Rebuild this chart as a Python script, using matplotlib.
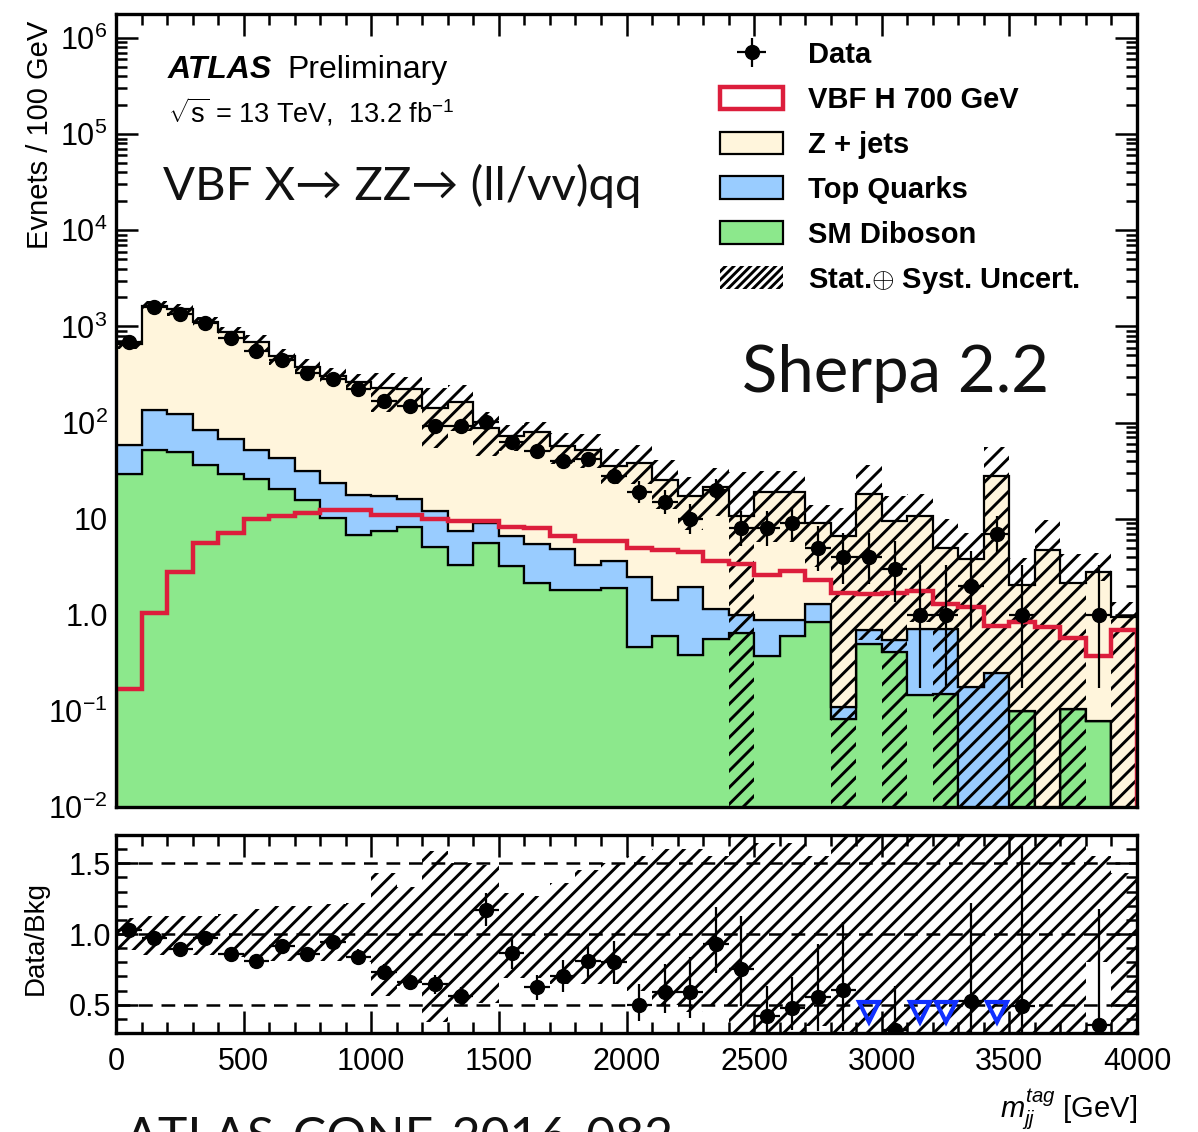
import math
import numpy as np
import matplotlib
matplotlib.use("Agg")
import matplotlib.pyplot as plt
from matplotlib.patches import Patch
from matplotlib.ticker import MultipleLocator, LogLocator, NullFormatter

# ---------------- data ----------------
bin_edges = np.arange(0, 4001, 100)

data_counts = [680, 1590, 1360, 1090, 750, 555, 447, 325, 285, 222,
               168, 147, 92, 92, 102, 63, 50, 40, 42, 28,
               19, 15, 10, 20, 8, 8, 9, 5, 4, 4,
               3, 1, 1, 2, 7, 1, 0, 0, 1, 0]

total_bkg = [660, 1640, 1520, 1120, 870, 685, 490, 378, 303, 264,
             230, 222, 143, 163, 87, 73, 80, 57, 52, 35,
             38, 25.4, 17.0, 21.5, 10.6, 18.9, 18.9, 9.0, 6.6, 18.0,
             9.4, 10.6, 4.9, 3.8, 27.5, 2.03, 4.7, 2.13, 2.8, 0.94]

diboson = [29, 52, 49, 36, 29, 26, 20.5, 15.8, 10.2, 6.7,
           7.4, 8.2, 5.1, 3.3, 5.6, 3.2, 2.16, 1.8, 1.8, 1.9,
           0.46, 0.6, 0.385, 0.56, 0.65, 0.37, 0.6, 0.85, 0.083, 0.50,
           0.41, 0.145, 0.15, 0.0, 0.0, 0.10, 0.0, 0.105, 0.079, 0.0]

top_quarks = [29.5, 83, 75, 46.6, 39, 26, 22, 15.6, 13.3, 11.1,
              9.7, 7.8, 6.9, 4.2, 3.4, 3.4, 3.24, 3.0, 1.5, 1.7,
              2.04, 0.81, 1.57, 0.6, 0.35, 0.51, 0.28, 0.44, 0.028, 0.19,
              0.13, 0.565, 0.56, 0.177, 0.245, 0.0, 0.0, 0.0, 0.0, 0.0]

vbf_signal = [0.17, 1.05, 2.8, 5.6, 7.1, 9.8, 10.6, 11.5, 12.2, 12.2,
              11.0, 11.0, 10.0, 9.5, 9.5, 8.2, 8.0, 6.6, 5.8, 5.8,
              4.9, 4.7, 4.5, 3.6, 3.35, 2.6, 2.86, 2.3, 1.7, 1.65,
              1.7, 1.75, 1.3, 1.2, 0.77, 0.85, 0.75, 0.57, 0.37, 0.7]

unc_up = [0.11, 0.13, 0.13, 0.13, 0.14, 0.18, 0.20, 0.20, 0.21, 0.22,
          0.43, 0.33, 0.59, 0.50, 0.49, 0.29, 0.27, 0.36, 0.45, 0.50,
          0.55, 0.60, 0.60, 0.55, 1.90, 0.64, 0.64, 0.55, 0.96, 1.00,
          0.85, 0.70, 1.00, 0.87, 1.04, 0.92, 1.06, 1.00, 0.55, 0.43]

unc_dn = [0.11, 0.15, 0.15, 0.15, 0.16, 0.18, 0.19, 0.19, 0.19, 0.20,
          0.44, 0.37, 0.62, 0.50, 0.49, 0.31, 0.31, 0.35, 0.35, 0.35,
          0.40, 0.50, 0.55, 0.50, 1.00, 0.70, 0.70, 0.65, 1.00, 0.97,
          1.00, 0.92, 1.00, 1.00, 1.00, 1.00, 1.00, 1.00, 0.20, 1.00]

legend_labels = ["Data", "VBF H 700 GeV", "Z + jets", "Top Quarks",
                 "SM Diboson", r"Stat.$\oplus$ Syst. Uncert."]

# ---------------- style ----------------
plt.rcParams['font.family'] = ['Liberation Sans', 'DejaVu Sans']
plt.rcParams['mathtext.fontset'] = 'custom'
plt.rcParams['mathtext.rm'] = 'Liberation Sans'
plt.rcParams['mathtext.it'] = 'Liberation Sans:italic'
plt.rcParams['mathtext.bf'] = 'Liberation Sans:bold'
plt.rcParams['hatch.linewidth'] = 2.1

C_Z = '#FFF5DC'
C_TOP = '#99CCFF'
C_DIB = '#8CE88C'
C_RED = '#DC1E3C'

edges = bin_edges
centers = 0.5 * (edges[:-1] + edges[1:])
data = np.array(data_counts, float)
tot = np.array(total_bkg, float)
dib = np.array(diboson, float)
top = np.array(top_quarks, float)
sig = np.array(vbf_signal, float)
uup = np.array(unc_up, float)
udn = np.array(unc_dn, float)

FLOOR = 1e-5
dib_top = dib + top


# Poisson (Garwood) 68% intervals for the data
def pois_cdf(k, mu):
    if mu <= 0:
        return 1.0
    return sum(math.exp(j * math.log(mu) - mu - math.lgamma(j + 1)) for j in range(k + 1))


def garwood(n):
    a = 0.158655
    if n == 0:
        return 0.0, 0.0
    if n > 25:
        return n - math.sqrt(n), n + math.sqrt(n)
    lo, hi = 0.0, float(n)
    for _ in range(60):
        m = 0.5 * (lo + hi)
        if 1 - pois_cdf(n - 1, m) < a:
            lo = m
        else:
            hi = m
    low = 0.5 * (lo + hi)
    lo, hi = float(n), n + 10 * math.sqrt(n) + 10
    for _ in range(60):
        m = 0.5 * (lo + hi)
        if pois_cdf(n, m) > a:
            lo = m
        else:
            hi = m
    up = 0.5 * (lo + hi)
    return low, up


lims = np.array([garwood(int(n)) for n in data_counts])
err_lo = data - lims[:, 0]
err_hi = lims[:, 1] - data

# ---------------- figure ----------------
fig = plt.figure(figsize=(11.98, 11.32), dpi=100)
ax = fig.add_axes([116 / 1198, 1 - 807 / 1132, 1021 / 1198, 793 / 1132])
axr = fig.add_axes([116 / 1198, 1 - 1033 / 1132, 1021 / 1198, 198 / 1132])

lw_edge = 1.6
ax.stairs(np.maximum(dib, FLOOR), edges, baseline=FLOOR, fill=True,
          facecolor=C_DIB, edgecolor='black', linewidth=lw_edge, zorder=2)
ax.stairs(np.maximum(dib_top, FLOOR), edges, baseline=np.maximum(dib, FLOOR), fill=True,
          facecolor=C_TOP, edgecolor='black', linewidth=lw_edge, zorder=2)
ax.stairs(tot, edges, baseline=np.maximum(dib_top, FLOOR), fill=True,
          facecolor=C_Z, edgecolor='black', linewidth=lw_edge, zorder=2)

band_hi = tot * (1 + uup)
band_lo = np.maximum(tot * (1 - udn), FLOOR)
ax.stairs(band_hi, edges, baseline=band_lo, fill=True, facecolor='none',
          edgecolor='black', linewidth=0, hatch='//', zorder=3)

ax.stairs(sig, edges, baseline=FLOOR, fill=False, edgecolor=C_RED,
          linewidth=3.2, zorder=4)

has = data > 0
eb = ax.errorbar(centers[has], data[has], yerr=[err_lo[has], err_hi[has]],
                 xerr=50, fmt='o', color='black', markersize=10,
                 elinewidth=1.6, capsize=0, zorder=5)

ax.set_yscale('log')
ax.set_xlim(0, 4000)
ax.set_ylim(1e-2, 10 ** 6.25)
ax.set_yticks([1e-2, 1e-1, 1, 10, 1e2, 1e3, 1e4, 1e5, 1e6])
ax.set_yticklabels([r'$10^{-2}$', r'$10^{-1}$', '1.0', '10', r'$10^{2}$',
                    r'$10^{3}$', r'$10^{4}$', r'$10^{5}$', r'$10^{6}$'])
ax.yaxis.set_minor_locator(LogLocator(base=10, subs=np.arange(2, 10), numticks=20))
ax.yaxis.set_minor_formatter(NullFormatter())
ax.xaxis.set_major_locator(MultipleLocator(500))
ax.xaxis.set_minor_locator(MultipleLocator(100))
ax.tick_params(axis='x', labelbottom=False)

for a in (ax, axr):
    a.tick_params(which='both', direction='in', top=True, right=True,
                  labelsize=22, width=1.8)
    a.tick_params(which='major', length=16)
    a.tick_params(which='minor', length=8)
    for s in a.spines.values():
        s.set_linewidth(2.4)
        s.set_zorder(10)
ax.tick_params(axis='y', which='major', pad=6)

# ---------------- ratio ----------------
r_hi = 1 + uup
r_lo = 1 - udn
axr.stairs(r_hi, edges, baseline=r_lo, fill=True, facecolor='none',
           edgecolor='black', linewidth=0, hatch='//', zorder=2)
for yv in (0.5, 1.0, 1.5):
    axr.axhline(yv, color='black', linestyle=(0, (5.5, 3.5)), linewidth=1.8, zorder=3)

ratio = data / tot
rerr_lo = err_lo / tot
rerr_hi = err_hi / tot
ok = has & (ratio >= 0.3)
low = has & (ratio < 0.3)
axr.errorbar(centers[ok], ratio[ok], yerr=[rerr_lo[ok], rerr_hi[ok]], xerr=50,
             fmt='o', color='black', markersize=10, elinewidth=1.6, capsize=0,
             zorder=5, clip_on=True)
axr.plot(centers[low], np.full(low.sum(), 0.45), linestyle='none', marker='v',
         markersize=14, markerfacecolor='none', markeredgecolor='#1030FF',
         markeredgewidth=3, zorder=6)

axr.set_xlim(0, 4000)
axr.set_ylim(0.3, 1.7)
axr.set_yticks([0.5, 1.0, 1.5])
axr.set_yticklabels(['0.5', '1.0', '1.5'])
axr.yaxis.set_minor_locator(MultipleLocator(0.1))
axr.xaxis.set_minor_locator(MultipleLocator(100))
axr.set_xticks(np.arange(0, 4001, 500))
axr.set_xticklabels([str(v) for v in range(0, 4001, 500)])
axr.tick_params(axis='x', which='major', pad=10)

# ---------------- legend ----------------
handles = [eb,
           Patch(facecolor='white', edgecolor=C_RED, linewidth=3.2),
           Patch(facecolor=C_Z, edgecolor='black', linewidth=1.6),
           Patch(facecolor=C_TOP, edgecolor='black', linewidth=1.6),
           Patch(facecolor=C_DIB, edgecolor='black', linewidth=1.6),
           Patch(facecolor='none', edgecolor='black', linewidth=0, hatch='////')]
leg = ax.legend(handles, legend_labels, loc='upper left',
                bbox_to_anchor=(0.592, 0.966), frameon=False,
                prop={'family': ['Liberation Sans', 'DejaVu Sans'],
                      'weight': 'bold', 'size': 21},
                borderpad=0, borderaxespad=0, handlelength=2.15,
                handleheight=0.8, handletextpad=0.85, labelspacing=0.58)
leg.set_zorder(20)

# ---------------- texts ----------------
fig.text(168 / 1198, 1 - 78 / 1132, 'ATLAS', fontsize=23, fontweight='bold',
         fontstyle='italic', va='baseline', ha='left')
fig.text(287 / 1198, 1 - 78 / 1132, 'Preliminary', fontsize=23,
         va='baseline', ha='left')
fig.text(168 / 1198, 1 - 122 / 1132, r'$\sqrt{\rm s}$ = 13 TeV,  13.2 fb$^{-1}$',
         fontsize=19.5, va='baseline', ha='left')
fig.text(163 / 1198, 1 - 200 / 1132, 'VBF X\u2192 ZZ\u2192 (ll/vv)qq', fontsize=34,
         family=['Lato', 'DejaVu Sans'], va='baseline', ha='left', color='#111111')
fig.text(742 / 1198, 1 - 392 / 1132, 'Sherpa 2.2', fontsize=47,
         family=['Lato', 'DejaVu Sans'], va='baseline', ha='left', color='#111111')
fig.text(40 / 1198, 1 - 135 / 1132, 'Evnets / 100 GeV', fontsize=21,
         rotation=90, va='center', ha='center')
fig.text(36 / 1198, 1 - 938 / 1132, 'Data/Bkg', fontsize=20,
         rotation=90, va='center', ha='center')
fig.text(1137 / 1198, 1 - 1118 / 1132, r'$m_{jj}^{tag}$ [GeV]', fontsize=21,
         va='baseline', ha='right')
fig.text(125 / 1198, 1 - 1153 / 1132, 'ATLAS-CONF-2016-082', fontsize=36,
         family=['Lato', 'DejaVu Sans'], va='baseline', ha='left', color='#111111')

fig.savefig('out.png', dpi=100)
